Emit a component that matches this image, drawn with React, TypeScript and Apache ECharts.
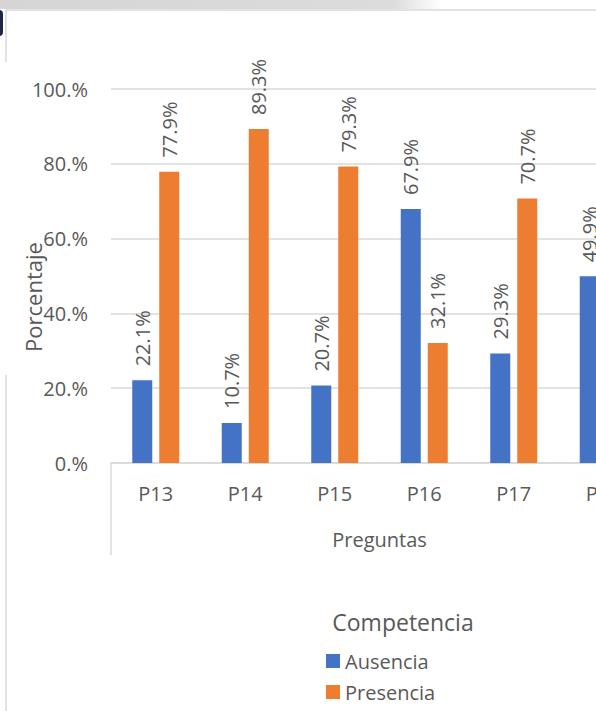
import React, { useEffect, useRef } from "react";
import * as echarts from "echarts";

const categories = ["P13", "P14", "P15", "P16", "P17", "P18"];
const ausencia = [22.1, 10.7, 20.7, 67.9, 29.3, 49.9];
const presencia = [77.9, 89.3, 79.3, 32.1, 70.7, 50.1];
const yTicks = [0, 20, 40, 60, 80, 100];
const seriesNames = ["Ausencia", "Presencia"];
const xTitle = "Preguntas";
const yTitle = "Porcentaje";
const legendTitle = "Competencia";

const GRAY = "#595959";
const LINE = "#d9d9d9";
const FONT = "'Open Sans', 'Noto Sans', sans-serif";

export default function App() {
  const ref = useRef<HTMLDivElement>(null);
  useEffect(() => {
    if (!ref.current) return;
    const chart = echarts.init(ref.current, undefined, { renderer: "svg" });
    const label = {
      show: true,
      position: "top",
      rotate: 90,
      align: "left",
      verticalAlign: "middle",
      distance: 14,
      fontSize: 20,
      color: GRAY,
      fontFamily: FONT,
      formatter: (p: any) => p.value.toFixed(1) + "%",
    };
    chart.setOption({
      animation: false,
      backgroundColor: "#ffffff",
      textStyle: { fontFamily: FONT },
      grid: { left: 111, right: 12, top: 89, bottom: 248, containLabel: false },
      xAxis: {
        type: "category",
        data: categories,
        axisLine: { show: true, lineStyle: { color: LINE, width: 1.5 } },
        axisTick: { show: false },
        axisLabel: { fontSize: 20, color: GRAY, margin: 20, fontFamily: FONT },
        name: xTitle,
        nameLocation: "middle",
        nameGap: 66,
        nameTextStyle: { fontSize: 20, color: GRAY, fontFamily: FONT },
      },
      yAxis: {
        type: "value",
        min: yTicks[0],
        max: yTicks[yTicks.length - 1],
        interval: 20,
        axisLine: { show: false },
        axisTick: { show: false },
        splitLine: { lineStyle: { color: LINE, width: 1.5 } },
        axisLabel: {
          fontSize: 20,
          color: GRAY,
          margin: 23,
          fontFamily: FONT,
          formatter: (v: number) => v + ".%",
        },
      },
      legend: {
        orient: "vertical",
        left: 326,
        top: 651,
        padding: 0,
        itemWidth: 14,
        itemHeight: 14,
        itemGap: 11,
        icon: "rect",
        data: seriesNames,
        textStyle: { fontSize: 20, color: GRAY, lineHeight: 20, fontFamily: FONT },
      },
      graphic: [
        {
          type: "rect",
          shape: { x: 0, y: 0, width: 596, height: 9 },
          style: {
            fill: new echarts.graphic.LinearGradient(0, 0, 1, 0, [
              { offset: 0, color: "#d5d5d5" },
              { offset: 0.66, color: "#dcdcdc" },
              { offset: 0.74, color: "#ffffff" },
            ]),
          },
          silent: true,
        },
        {
          type: "line",
          shape: { x1: 6, y1: 10, x2: 596, y2: 10 },
          style: { stroke: LINE, lineWidth: 1.5 },
          silent: true,
        },
        {
          type: "line",
          shape: { x1: 6, y1: 10, x2: 6, y2: 62 },
          style: { stroke: LINE, lineWidth: 1.5 },
          silent: true,
        },
        {
          type: "line",
          shape: { x1: 6, y1: 375, x2: 6, y2: 711 },
          style: { stroke: LINE, lineWidth: 1.5 },
          silent: true,
        },
        {
          type: "rect",
          shape: { x: -6, y: 10, width: 9, height: 26, r: 4 },
          style: { fill: "#1b2743" },
          silent: true,
        },
        {
          type: "line",
          shape: { x1: 111, y1: 463, x2: 111, y2: 555 },
          style: { stroke: LINE, lineWidth: 1.5 },
          silent: true,
        },
        {
          type: "text",
          x: 33,
          y: 297,
          rotation: Math.PI / 2,
          style: {
            text: yTitle,
            fontSize: 22,
            fill: GRAY,
            fontFamily: FONT,
            textAlign: "center",
            textVerticalAlign: "middle",
          },
          silent: true,
        },
        {
          type: "text",
          x: 403,
          y: 622,
          style: {
            text: legendTitle,
            fontSize: 23,
            fill: GRAY,
            fontFamily: FONT,
            textAlign: "center",
            textVerticalAlign: "middle",
          },
          silent: true,
        },
      ],
      series: [
        {
          name: seriesNames[0],
          type: "bar",
          data: ausencia,
          barWidth: 20,
          barGap: "35%",
          itemStyle: { color: "#4472c4" },
          label,
        },
        {
          name: seriesNames[1],
          type: "bar",
          data: presencia,
          barWidth: 20,
          barGap: "35%",
          itemStyle: { color: "#ed7d31" },
          label,
        },
      ],
    });
    return () => chart.dispose();
  }, []);
  return (
    <div
      style={{
        position: "fixed",
        left: 0,
        top: 0,
        width: 596,
        height: 711,
        overflow: "hidden",
        background: "#fff",
      }}
    >
      <div ref={ref} style={{ width: 660, height: 711 }} />
    </div>
  );
}
